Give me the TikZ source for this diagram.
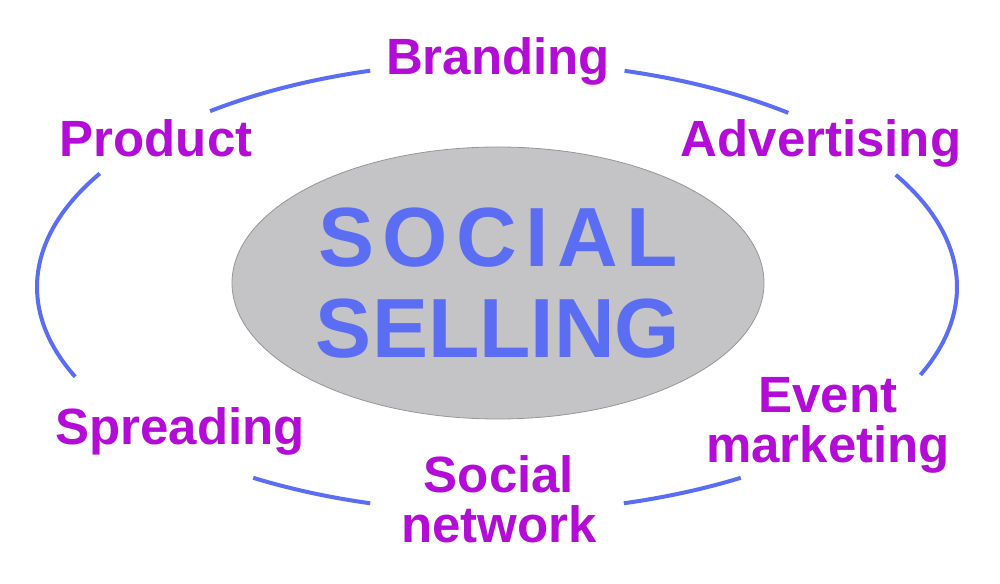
\documentclass[tikz,border=0pt]{standalone}
\usepackage{fontspec}
\setmainfont{Liberation Sans}
\usetikzlibrary{positioning,shapes.geometric}
\definecolor{topicpurple}{RGB}{178,12,214}
\definecolor{ringblue}{RGB}{91,110,243}
\definecolor{hubgray}{RGB}{196,196,198}
\definecolor{hubedge}{RGB}{150,150,150}

\begin{document}
\begin{tikzpicture}[x=0.5pt, y=0.5pt,
  topic/.style={font=\fontsize{25.5}{25}\selectfont\bfseries, text=topicpurple, align=center, anchor=base, inner sep=0pt},
  hub/.style={ellipse, draw=hubedge, fill=hubgray, minimum width=266pt, minimum height=136pt, inner sep=0pt, align=center, text=ringblue, font=\fontsize{42}{45.5}\selectfont\bfseries},
  ring/.style={draw=ringblue, line width=2pt}
]
  \useasboundingbox (0,0) rectangle (1000,583);
  \coordinate (ringc) at (497,296);

  \node[hub] (hub) at (498,300) {{\addfontfeature{LetterSpace=10}SOCIAL}\\SELLING};

  \node[topic] (branding)  at (498,508) {Branding};
  \node[topic] (product)   at (156,426) {Product};
  \node[topic] (advert)    at (821,426) {Advertising};
  \node[topic] (spreading) at (180,138) {Spreading};
  \node[topic] (network)   at (499,40)  {Social\\network};
  \node[topic] (event)     at (828,120) {Event\\marketing};

  \draw[ring] (ringc) ++(106:460 and 225) arc[start angle=106, end angle=128.6, x radius=460, y radius=225];
  \draw[ring] (ringc) ++(50.7:460 and 225) arc[start angle=50.7, end angle=73.9, x radius=460, y radius=225];
  \draw[ring] (ringc) ++(-23:460 and 225) arc[start angle=-23, end angle=29.9, x radius=460, y radius=225];
  \draw[ring] (ringc) ++(149.7:460 and 225) arc[start angle=149.7, end angle=203.5, x radius=460, y radius=225];
  \draw[ring] (ringc) ++(238:460 and 225) arc[start angle=238, end angle=254, x radius=460, y radius=225];
  \draw[ring] (ringc) ++(286:460 and 225) arc[start angle=286, end angle=302, x radius=460, y radius=225];
\end{tikzpicture}
\end{document}
